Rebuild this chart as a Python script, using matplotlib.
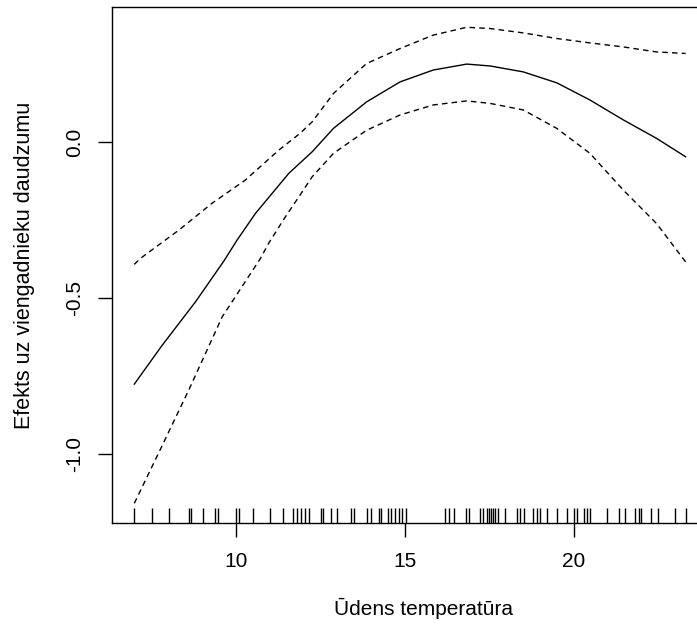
import numpy as np
import matplotlib
matplotlib.use("Agg")
import matplotlib.pyplot as plt

plt.rcParams["font.family"] = ["Liberation Sans", "DejaVu Sans"]
plt.rcParams["axes.unicode_minus"] = False

# smooth term of the GAM
fit_x = [7.0, 7.82, 8.81, 9.65, 10.04, 10.58, 11.57, 12.26, 12.89, 13.87, 14.86,
         15.84, 16.83, 17.52, 18.50, 19.49, 20.47, 21.46, 22.44, 23.3]
fit = [-0.776, -0.652, -0.512, -0.381, -0.314, -0.229, -0.100, -0.031, 0.044,
       0.129, 0.193, 0.231, 0.250, 0.244, 0.225, 0.190, 0.135, 0.071, 0.012, -0.047]

upper_x = [7.0, 7.18, 8.32, 9.30, 10.28, 11.27, 11.90, 12.26, 12.89, 13.87, 14.86,
           15.84, 16.83, 17.52, 18.50, 19.49, 20.47, 21.46, 22.44, 23.3]
upper = [-0.392, -0.373, -0.282, -0.196, -0.122, -0.026, 0.028, 0.065, 0.156,
         0.252, 0.300, 0.343, 0.368, 0.364, 0.350, 0.332, 0.318, 0.305, 0.289, 0.284]

lower_x = [7.0, 7.62, 8.61, 9.60, 10.73, 10.98, 11.47, 11.90, 12.26, 12.89, 13.87,
           14.86, 15.84, 16.83, 17.52, 18.50, 19.49, 20.47, 21.46, 22.44, 23.3]
lower = [-1.158, -1.019, -0.795, -0.560, -0.373, -0.323, -0.239, -0.170, -0.111,
         -0.036, 0.038, 0.087, 0.119, 0.132, 0.124, 0.103, 0.044, -0.036, -0.154,
         -0.261, -0.384]

# observed water temperatures (rug)
rug = [7.00, 7.53, 8.03, 8.63, 8.68, 9.02, 9.40, 9.48, 10.0, 10.11, 10.52, 11.01,
       11.41, 11.70, 11.80, 11.92, 12.05, 12.18, 12.51, 12.59, 12.81, 12.99,
       13.40, 13.50, 13.89, 14.01, 14.23, 14.29, 14.50, 14.60, 14.70, 14.82,
       14.92, 15.04, 16.20, 16.31, 16.45, 16.81, 16.91, 17.22, 17.30, 17.42,
       17.48, 17.54, 17.60, 17.66, 17.75, 17.97, 18.31, 18.40, 18.52, 18.80,
       18.92, 19.00, 19.21, 19.49, 19.80, 20.00, 20.10, 20.30, 20.39, 20.47,
       20.98, 21.32, 21.50, 21.79, 21.91, 21.99, 22.28, 22.48, 22.99, 23.3]

xticks = [10, 15, 20]
yticks = [-1.0, -0.5, 0.0]

W, H = 697, 631
fig = plt.figure(figsize=(W / 100, H / 100), dpi=100)
ax = fig.add_axes([112.3 / W, (H - 523) / H, 596.3 / W, 516 / H])

ax.plot(fit_x, fit, color="black", lw=1.0)
ax.plot(upper_x, upper, color="black", lw=1.0, ls=(0, (4, 3)))
ax.plot(lower_x, lower, color="black", lw=1.0, ls=(0, (4, 3)))

ax.set_xlim(6.35, 23.98)
ax.set_ylim(-1.221, 0.433)
ylo, yhi = ax.get_ylim()
ax.vlines(rug, ylo, ylo + 0.03 * (yhi - ylo), color="black", lw=1.0)

ax.set_xticks(xticks)
ax.set_yticks(yticks)
ax.set_yticklabels([f"{v:.1f}" for v in yticks], rotation=90, va="center")
ax.tick_params(direction="out", length=10, width=1.0, labelsize=15, pad=11)
ax.tick_params(axis="y", pad=10)

for s in ax.spines.values():
    s.set_linewidth(1.0)

ax.set_xlabel("Ūdens temperatūra", fontsize=15, labelpad=22)
ax.xaxis.set_label_coords(0.522, -0.145)
ax.set_ylabel("Efekts uz viengadnieku daudzumu", fontsize=15.5, labelpad=22)

fig.savefig("out.png", dpi=100)
